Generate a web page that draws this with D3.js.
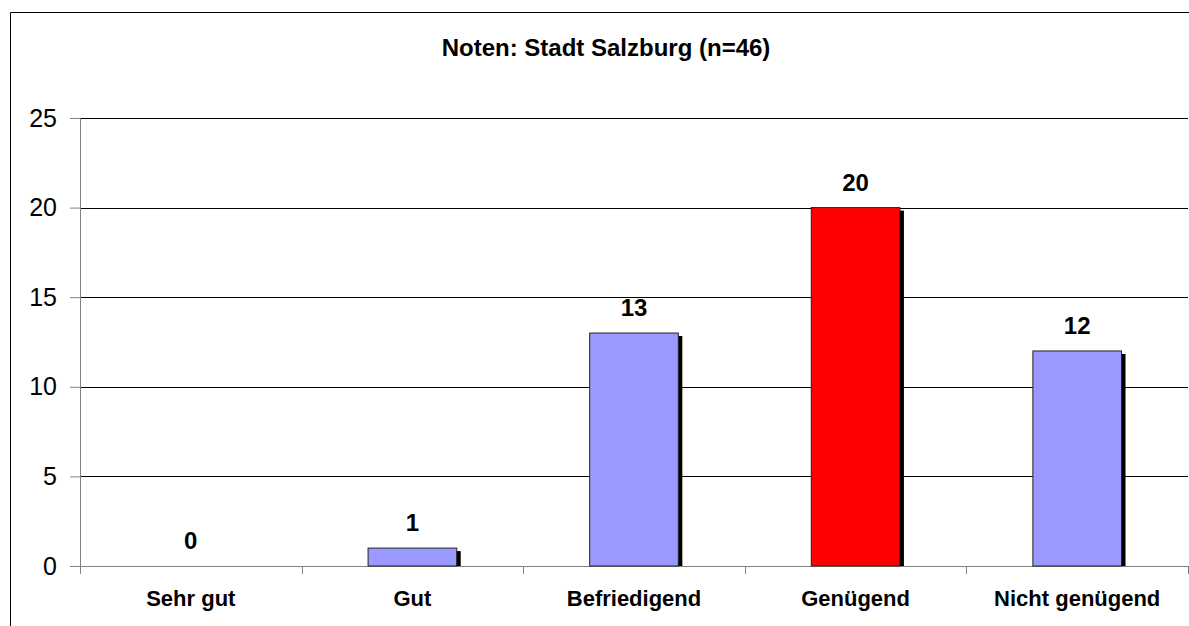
<!DOCTYPE html>
<html>
<head>
<meta charset="utf-8">
<script src="https://cdn.jsdelivr.net/npm/d3@7"></script>
<style>
  body { margin: 0; background: #fff; }
  svg { display: block; font-family: Arial, "Liberation Sans", sans-serif; }
</style>
</head>
<body>
<svg id="chart" width="1189" height="626"></svg>
<script>
const title = "Noten: Stadt Salzburg (n=46)";
const categories = ["Sehr gut", "Gut", "Befriedigend", "Genügend", "Nicht genügend"];
const values = [0, 1, 13, 20, 12];
const highlight = "Genügend";
const yTicks = [0, 5, 10, 15, 20, 25];

const svg = d3.select("#chart");
const margin = { top: 118, right: 1, bottom: 60, left: 80 },
  width = 1189 - margin.left - margin.right,
  height = 626 - margin.top - margin.bottom;
const font = "Arial, 'Liberation Sans', sans-serif";

// outer chart frame (only left and top edges fall inside the picture)
svg.append("path")
  .attr("d", "M10.5,640 V12.5 H1200")
  .attr("fill", "none")
  .attr("stroke", "#000")
  .attr("stroke-width", 1);

svg.append("text")
  .attr("x", 606)
  .attr("y", 56)
  .attr("text-anchor", "middle")
  .attr("font-size", 24)
  .attr("font-weight", "bold")
  .text(title);

const x = d3.scaleBand().domain(categories).range([0, width]).paddingInner(0.6).paddingOuter(0.3);
const xOuter = d3.scaleBand().domain(categories).range([0, width]);
const y = d3.scaleLinear().domain([0, 25]).range([height, 0]);

const g = svg.append("g").attr("transform", `translate(${margin.left},${margin.top})`);

// gridlines
g.append("g")
  .selectAll("line")
  .data(yTicks.filter(d => d > 0))
  .join("line")
  .attr("x1", 0).attr("x2", width)
  .attr("y1", d => Math.round(y(d)) + 0.5).attr("y2", d => Math.round(y(d)) + 0.5)
  .attr("stroke", "#000");

// y axis
const yAxis = g.append("g")
  .call(d3.axisLeft(y).tickValues(yTicks).tickSize(10).tickPadding(13));
yAxis.select(".domain").attr("stroke", "#808080");
yAxis.selectAll(".tick line").attr("stroke", "#808080");
yAxis.selectAll("text").attr("font-size", 25).attr("fill", "#000").attr("font-family", font);

// x axis
const xAxis = g.append("g")
  .attr("transform", `translate(0,${height})`)
  .call(d3.axisBottom(xOuter).tickSize(0));
xAxis.select(".domain").attr("stroke", "#808080");
xAxis.selectAll("text")
  .attr("y", 40).attr("dy", 0)
  .attr("font-size", 22).attr("font-weight", "bold").attr("fill", "#000")
  .attr("font-family", font);
// category separator ticks
g.append("g")
  .selectAll("line")
  .data(categories.map(c => xOuter(c)).concat([width]))
  .join("line")
  .attr("x1", d => Math.round(d) + 0.5).attr("x2", d => Math.round(d) + 0.5)
  .attr("y1", height).attr("y2", height + 8)
  .attr("stroke", "#808080");

const barData = values.map((v, i) => ({ c: categories[i], v }));

// bar shadows
g.append("g")
  .selectAll("rect")
  .data(barData.filter(d => d.v > 0))
  .join("rect")
  .attr("x", d => x(d.c) + 4)
  .attr("y", d => y(d.v) + 3)
  .attr("width", x.bandwidth())
  .attr("height", d => height - y(d.v) - 3)
  .attr("fill", "#000");

// bars
g.append("g")
  .selectAll("rect")
  .data(barData.filter(d => d.v > 0))
  .join("rect")
  .attr("x", d => x(d.c))
  .attr("y", d => y(d.v))
  .attr("width", x.bandwidth())
  .attr("height", d => height - y(d.v))
  .attr("fill", d => d.c === highlight ? "#FF0000" : "#9999FF")
  .attr("stroke", "#222")
  .attr("stroke-width", 1);

// value labels
g.append("g")
  .selectAll("text")
  .data(barData)
  .join("text")
  .attr("x", d => x(d.c) + x.bandwidth() / 2)
  .attr("y", d => y(d.v) - 17)
  .attr("text-anchor", "middle")
  .attr("font-size", 24)
  .attr("font-weight", "bold")
  .text(d => d.v);
</script>
</body>
</html>
